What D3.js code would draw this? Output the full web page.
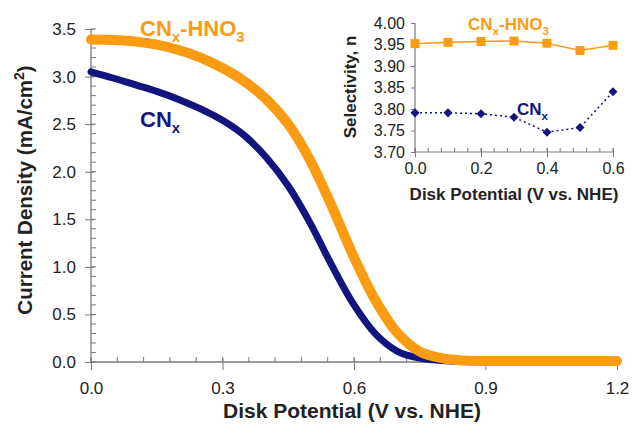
<!DOCTYPE html>
<html><head><meta charset="utf-8">
<script src="https://cdn.jsdelivr.net/npm/d3@7"></script>
<style>body{margin:0;background:#fff}svg{display:block}</style>
</head><body>
<svg id="c" width="632" height="425"></svg>
<script>
// ---------- main panel data ----------
const potential = [0,0.05,0.10,0.15,0.20,0.25,0.30,0.35,0.40,0.45,0.50,0.55,0.60,0.65,0.70,0.75,0.80,0.85,0.90,1.0,1.1,1.2];
const currentHNO3 = [3.39,3.385,3.37,3.335,3.28,3.20,3.09,2.95,2.76,2.50,2.12,1.63,1.10,0.64,0.30,0.11,0.04,0.015,0.01,0.01,0.01,0.01];
const currentCNx  = [3.05,2.985,2.915,2.845,2.76,2.66,2.54,2.38,2.15,1.85,1.46,1.01,0.60,0.29,0.11,0.04,0.015,0.006,0.004,0.004,0.004,0.004];
const xTicks = [0,0.3,0.6,0.9,1.2];
const yTicks = [0,0.5,1.0,1.5,2.0,2.5,3.0,3.5];
// ---------- inset data ----------
const insetPotential = [0,0.1,0.2,0.3,0.4,0.5,0.6];
const selHNO3 = [3.952,3.955,3.957,3.958,3.953,3.936,3.948];
const selCNx  = [3.791,3.791,3.789,3.781,3.746,3.757,3.840];
const insetXTicks = [0,0.2,0.4,0.6];
const insetYTicks = [3.70,3.75,3.80,3.85,3.90,3.95,4.00];

const ORANGE = "#FB9B12", BLUE = "#14147E", AXIS = "#7a7a7a", TXT = "#222";
const svg = d3.select("#c");
const font = "'Liberation Sans', Arial, sans-serif";

// ---------- main panel ----------
const x = d3.scaleLinear().domain([0,1.2]).range([91,617]);
const y = d3.scaleLinear().domain([0,3.5]).range([362,29]);

const g = svg.append("g");
const xMinor = d3.range(0,1.2001,0.06);
g.append("g").selectAll("line").data(xMinor).join("line")
  .attr("x1",d=>x(d)).attr("x2",d=>x(d)).attr("y1",y(0)).attr("y2",y(0)-5)
  .attr("stroke",AXIS).attr("stroke-width",1);
const yMinor = d3.range(0,3.5001,0.1);
g.append("g").selectAll("line").data(yMinor).join("line")
  .attr("x1",x(0)).attr("x2",x(0)+5).attr("y1",d=>y(d)).attr("y2",d=>y(d))
  .attr("stroke",AXIS).attr("stroke-width",1);

const xAxis = g.append("g").attr("transform",`translate(0,${y(0)})`)
  .call(d3.axisBottom(x).tickValues(xTicks).tickFormat(d3.format(".1f")).tickSizeOuter(0).tickSizeInner(8).tickPadding(12));
xAxis.select(".domain").attr("stroke",AXIS).attr("stroke-width",1.3).attr("d",`M${x(0)},0H${x(1.2)}`);
xAxis.selectAll(".tick line").attr("stroke",AXIS).attr("y1",-4);
xAxis.selectAll(".tick text").attr("font-family",font).attr("font-size",17).attr("fill",TXT);

const yAxis = g.append("g").attr("transform",`translate(${x(0)},0)`)
  .call(d3.axisLeft(y).tickValues(yTicks).tickFormat(d3.format(".1f")).tickSizeOuter(0).tickSizeInner(6).tickPadding(9));
yAxis.select(".domain").attr("stroke",AXIS).attr("stroke-width",1.3).attr("d",`M0,${y(0)}V${y(3.5)}`);
yAxis.selectAll(".tick line").attr("stroke",AXIS).attr("x1",3);
yAxis.selectAll(".tick text").attr("font-family",font).attr("font-size",17).attr("fill",TXT);

// curves
const line = d3.line().x(d=>x(d[0])).y(d=>y(d[1])).curve(d3.curveCatmullRom.alpha(0.5));
g.append("path").datum(potential.map((p,i)=>[p,currentCNx[i]]))
  .attr("d",line).attr("fill","none").attr("stroke",BLUE).attr("stroke-width",7).attr("stroke-linecap","round");
g.append("path").datum(potential.map((p,i)=>[p,currentHNO3[i]]))
  .attr("d",line).attr("fill","none").attr("stroke",ORANGE).attr("stroke-width",10).attr("stroke-linecap","round");

// axis titles
svg.append("text").attr("x",352).attr("y",418).attr("text-anchor","middle")
  .attr("font-family",font).attr("font-weight","bold").attr("font-size",21).attr("fill",TXT)
  .text("Disk Potential (V vs. NHE)");
const yt = svg.append("text").attr("transform","translate(32,190) rotate(-90)").attr("text-anchor","middle")
  .attr("font-family",font).attr("font-weight","bold").attr("font-size",20.5).attr("fill",TXT);
yt.append("tspan").text("Current Density (mA/cm");
yt.append("tspan").attr("dy",-8).attr("font-size",14).text("2");
yt.append("tspan").attr("dy",8).text(")");

// series labels
function chemLabel(parent, tx, ty, size, color, parts){
  const t = parent.append("text").attr("x",tx).attr("y",ty).attr("font-family",font)
    .attr("font-weight","bold").attr("font-size",size).attr("fill",color);
  parts.forEach(p=>{
    if(p.sub){ t.append("tspan").attr("dy",size*0.28).attr("font-size",size*0.68).text(p.t); }
    else { t.append("tspan").attr("dy",p.back? -size*0.28:0).text(p.t); }
  });
  return t;
}
chemLabel(svg,140,36,22,ORANGE,[{t:"CN"},{t:"x",sub:true},{t:"-HNO",back:true},{t:"3",sub:true}]);
chemLabel(svg,140,127,22,BLUE,[{t:"CN"},{t:"x",sub:true}]);

// ---------- inset ----------
const xi = d3.scaleLinear().domain([0,0.6]).range([415,613]);
const yi = d3.scaleLinear().domain([3.70,4.00]).range([152,23]);
const gi = svg.append("g");
const xiMinor = d3.range(0,0.6001,0.04);
gi.append("g").selectAll("line").data(xiMinor).join("line")
  .attr("x1",d=>xi(d)).attr("x2",d=>xi(d)).attr("y1",yi(3.7)).attr("y2",yi(3.7)-4)
  .attr("stroke",AXIS).attr("stroke-width",1);
const xiAxis = gi.append("g").attr("transform",`translate(0,${yi(3.7)})`)
  .call(d3.axisBottom(xi).tickValues(insetXTicks).tickFormat(d3.format(".1f")).tickSizeOuter(0).tickSizeInner(5).tickPadding(6));
xiAxis.select(".domain").attr("stroke",AXIS).attr("stroke-width",1.2).attr("d",`M${xi(0)},0H${xi(0.6)}`);
xiAxis.selectAll(".tick line").attr("stroke",AXIS).attr("y1",-4);
xiAxis.selectAll(".tick text").attr("font-family",font).attr("font-size",16).attr("fill",TXT);
const yiAxis = gi.append("g").attr("transform",`translate(${xi(0)},0)`)
  .call(d3.axisLeft(yi).tickValues(insetYTicks).tickFormat(d3.format(".2f")).tickSizeOuter(0).tickSizeInner(4).tickPadding(6));
yiAxis.select(".domain").attr("stroke",AXIS).attr("stroke-width",1.2).attr("d",`M0,${yi(3.7)}V${yi(4.0)}`);
yiAxis.selectAll(".tick line").attr("stroke",AXIS);
yiAxis.selectAll(".tick text").attr("font-family",font).attr("font-size",16).attr("fill",TXT);

const lineI = d3.line().x(d=>xi(d[0])).y(d=>yi(d[1]));
gi.append("path").datum(insetPotential.map((p,i)=>[p,selHNO3[i]]))
  .attr("d",lineI).attr("fill","none").attr("stroke",ORANGE).attr("stroke-width",1.5);
gi.append("path").datum(insetPotential.map((p,i)=>[p,selCNx[i]]))
  .attr("d",lineI).attr("fill","none").attr("stroke",BLUE).attr("stroke-width",1.5).attr("stroke-dasharray","2,3");
gi.selectAll(".sq").data(insetPotential.map((p,i)=>[p,selHNO3[i]])).join("rect")
  .attr("x",d=>xi(d[0])-4.5).attr("y",d=>yi(d[1])-4.5).attr("width",9).attr("height",9).attr("fill",ORANGE);
gi.selectAll(".dm").data(insetPotential.map((p,i)=>[p,selCNx[i]])).join("path")
  .attr("transform",d=>`translate(${xi(d[0])},${yi(d[1])})`)
  .attr("d",d3.symbol(d3.symbolDiamond2,52)).attr("fill",BLUE);

svg.append("text").attr("x",514).attr("y",200).attr("text-anchor","middle")
  .attr("font-family",font).attr("font-weight","bold").attr("font-size",17).attr("fill",TXT)
  .text("Disk Potential (V vs. NHE)");
svg.append("text").attr("transform","translate(356,87) rotate(-90)").attr("text-anchor","middle")
  .attr("font-family",font).attr("font-weight","bold").attr("font-size",17).attr("fill",TXT)
  .text("Selectivity, n");
chemLabel(svg,468,30,17,ORANGE,[{t:"CN"},{t:"x",sub:true},{t:"-HNO",back:true},{t:"3",sub:true}]);
chemLabel(svg,517,115,17,BLUE,[{t:"CN"},{t:"x",sub:true}]);
</script>
</body></html>
